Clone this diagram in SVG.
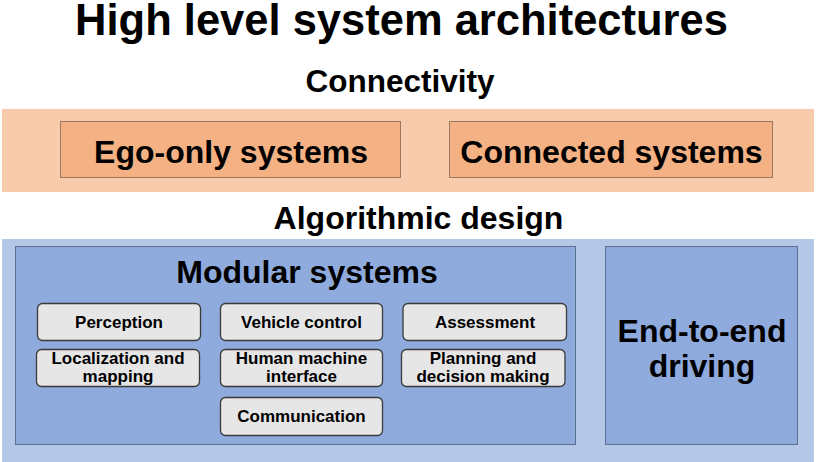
<svg xmlns="http://www.w3.org/2000/svg" width="820" height="462" viewBox="0 0 820 462">
<style>
text{font-family:"Liberation Sans",Arial,sans-serif;font-weight:bold;fill:#000;text-anchor:middle}
.h1{font-size:43.5px}
.h2{font-size:31.5px}
.big{font-size:32px}
.sm{font-size:17px}
.band-o{fill:#f8cbad}
.box-o{fill:#f4b183;stroke:#9c7a62;stroke-width:1}
.band-b{fill:#b4c7e7}
.box-b{fill:#8faadc;stroke:#5d7090;stroke-width:1}
.sub{fill:#e6e6e6;stroke:#3a3a3a;stroke-width:1.3}
</style>
<rect width="820" height="462" fill="#fff"/>
<g id="title"><text class="h1" x="401.5" y="35">High level system architectures</text></g>
<g id="connectivity">
<text class="h2" x="400" y="92">Connectivity</text>
<rect class="band-o" x="2" y="109" width="812" height="83"/>
</g>
<g id="ego-only"><rect class="box-o" x="60.5" y="121.5" width="340" height="56"/><text class="big" x="231" y="163">Ego-only systems</text></g>
<g id="connected"><rect class="box-o" x="449.5" y="121.5" width="323" height="56"/><text class="big" x="611.5" y="163">Connected systems</text></g>
<g id="algorithmic">
<text class="big" x="418.5" y="229">Algorithmic design</text>
<rect class="band-b" x="2" y="239" width="812" height="223"/>
</g>
<g id="modular"><rect class="box-b" x="15.5" y="246.5" width="560" height="198"/><text class="big" x="307" y="283">Modular systems</text></g>
<g id="end-to-end"><rect class="box-b" x="605.5" y="246.5" width="192" height="198"/><text class="big" x="702" y="342">End-to-end</text><text class="big" x="702" y="377">driving</text></g>
<g id="perception"><rect class="sub" x="37.5" y="303.5" width="163" height="37" rx="5"/><text class="sm" x="119" y="327.5">Perception</text></g>
<g id="vehicle-control"><rect class="sub" x="220.5" y="303.5" width="162" height="37" rx="5"/><text class="sm" x="301.5" y="327.5">Vehicle control</text></g>
<g id="assessment"><rect class="sub" x="403" y="303.5" width="163.5" height="37" rx="5"/><text class="sm" x="485" y="327.5">Assessment</text></g>
<g id="localization"><rect class="sub" x="36.5" y="349.5" width="163" height="37" rx="5"/><text class="sm" x="118" y="364">Localization and</text><text class="sm" x="118" y="382">mapping</text></g>
<g id="hmi"><rect class="sub" x="220.5" y="349.5" width="162" height="37" rx="5"/><text class="sm" x="301.5" y="364">Human machine</text><text class="sm" x="301.5" y="382">interface</text></g>
<g id="planning"><rect class="sub" x="401.5" y="349.5" width="163.5" height="37" rx="5"/><text class="sm" x="483" y="364">Planning and</text><text class="sm" x="483" y="382">decision making</text></g>
<g id="communication"><rect class="sub" x="220.5" y="397.5" width="162" height="38" rx="5"/><text class="sm" x="301.5" y="422">Communication</text></g>
<g id="connectors"></g>
</svg>
